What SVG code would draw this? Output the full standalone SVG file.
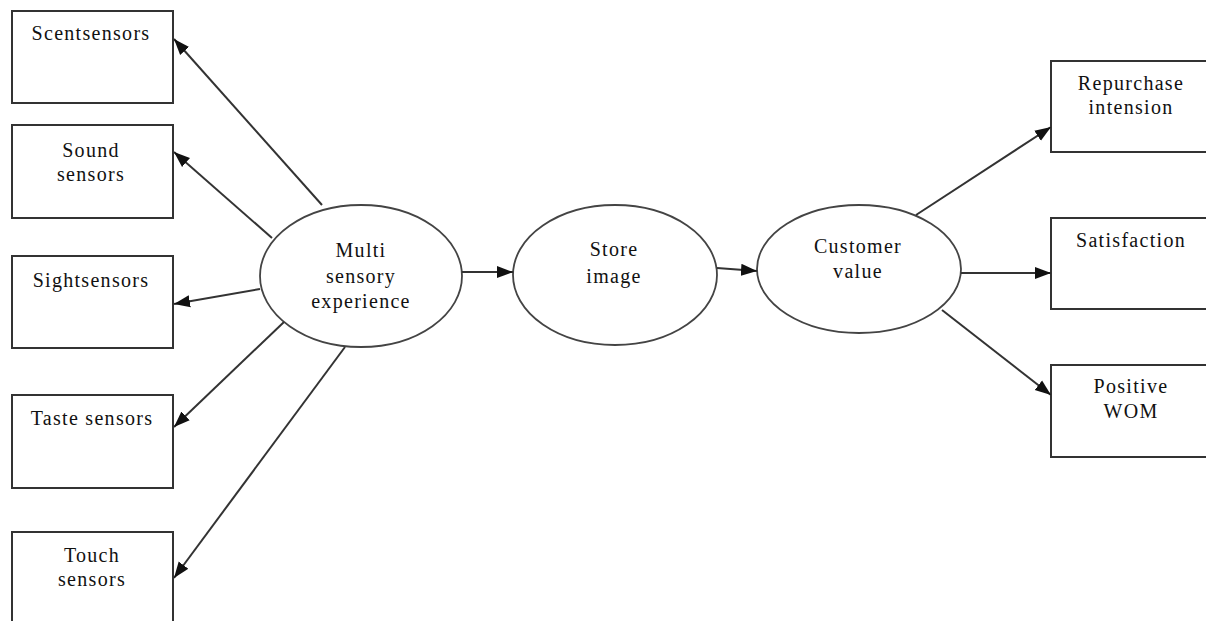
<svg xmlns="http://www.w3.org/2000/svg" width="1206" height="621" viewBox="0 0 1206 621">
<style>
.box{fill:#fff;stroke:#333;stroke-width:2}
.ell{fill:#fff;stroke:#444;stroke-width:1.8}
.lbl{font-family:"Liberation Serif","Times New Roman",serif;font-size:20px;letter-spacing:1.3px;fill:#111;text-anchor:middle}
.con{stroke:#333;stroke-width:2;fill:none;marker-end:url(#arr)}
</style>
<defs>
<marker id="arr" markerUnits="userSpaceOnUse" markerWidth="18" markerHeight="14" refX="16" refY="7" orient="auto">
<path d="M0,1 L16,7 L0,13 z" fill="#111"/>
</marker>
</defs>
<rect width="1206" height="621" fill="#fff"/>
<g id="scent"><rect class="box" x="12" y="11" width="161" height="92"/><text class="lbl" x="91" y="40">Scentsensors</text></g>
<g id="sound"><rect class="box" x="12" y="125" width="161" height="93"/><text class="lbl" x="91" y="157">Sound</text><text class="lbl" x="91" y="181">sensors</text></g>
<g id="sight"><rect class="box" x="12" y="256" width="161" height="92"/><text class="lbl" x="91" y="287">Sightsensors</text></g>
<g id="taste"><rect class="box" x="12" y="395" width="161" height="93"/><text class="lbl" x="92" y="425">Taste sensors</text></g>
<g id="touch"><rect class="box" x="12" y="532" width="161" height="100"/><text class="lbl" x="92" y="562">Touch</text><text class="lbl" x="92" y="586">sensors</text></g>
<g id="multi"><ellipse class="ell" cx="361" cy="276" rx="101" ry="71"/><text class="lbl" x="361" y="257">Multi</text><text class="lbl" x="361" y="283">sensory</text><text class="lbl" x="361" y="308">experience</text></g>
<g id="store"><ellipse class="ell" cx="615" cy="275" rx="102" ry="70"/><text class="lbl" x="614" y="256">Store</text><text class="lbl" x="614" y="283">image</text></g>
<g id="customer"><ellipse class="ell" cx="859" cy="269" rx="102" ry="64"/><text class="lbl" x="858" y="253">Customer</text><text class="lbl" x="858" y="278">value</text></g>
<g id="repurchase"><rect class="box" x="1051" y="61" width="170" height="91"/><text class="lbl" x="1131" y="90">Repurchase</text><text class="lbl" x="1131" y="114">intension</text></g>
<g id="satisfaction"><rect class="box" x="1051" y="218" width="170" height="91"/><text class="lbl" x="1131" y="247">Satisfaction</text></g>
<g id="wom"><rect class="box" x="1051" y="365" width="170" height="92"/><text class="lbl" x="1131" y="393">Positive</text><text class="lbl" x="1131" y="418">WOM</text></g>
<g id="connectors">
<line class="con" x1="322" y1="205" x2="174" y2="39"/>
<line class="con" x1="272" y1="238" x2="174" y2="152"/>
<line class="con" x1="260" y1="289" x2="174" y2="304"/>
<line class="con" x1="284" y1="322" x2="174" y2="427"/>
<line class="con" x1="345" y1="347" x2="174" y2="578"/>
<line class="con" x1="462" y1="272" x2="513" y2="272"/>
<line class="con" x1="717" y1="268" x2="757" y2="271"/>
<line class="con" x1="916" y1="215" x2="1051" y2="127"/>
<line class="con" x1="961" y1="273" x2="1051" y2="273"/>
<line class="con" x1="942" y1="310" x2="1051" y2="395"/>
</g>
</svg>
